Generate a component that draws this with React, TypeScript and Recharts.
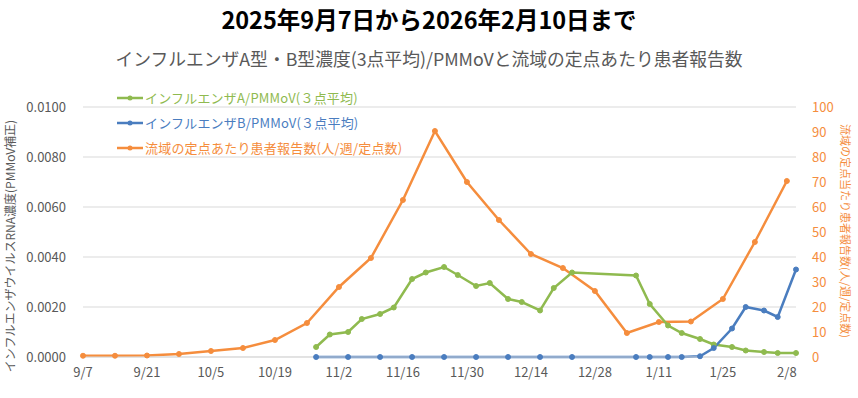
import React from 'react';
import {
  ComposedChart,
  Line,
  XAxis,
  YAxis,
  CartesianGrid,
} from 'recharts';

const FONT = '"Noto Sans CJK JP", "Noto Sans", sans-serif';
const GREEN = '#8fba4f';
const BLUE = '#4a7dbf';
const ORANGE = '#f58d3d';
const GRAY = '#595959';

const START = '2025-09-07';
const END = '2026-02-10';

// weekly sentinel reports (Sundays)
const reportDates = [
  '2025-09-07', '2025-09-14', '2025-09-21', '2025-09-28', '2025-10-05', '2025-10-12',
  '2025-10-19', '2025-10-26', '2025-11-02', '2025-11-09', '2025-11-16', '2025-11-23',
  '2025-11-30', '2025-12-07', '2025-12-14', '2025-12-21', '2025-12-28', '2026-01-04',
  '2026-01-11', '2026-01-18', '2026-01-25', '2026-02-01', '2026-02-08',
];
const reportValues = [
  0.5, 0.5, 0.6, 1.2, 2.4, 3.6, 6.8, 13.6, 28, 39.6, 62.8, 90.4,
  70, 54.8, 41.2, 35.6, 26.4, 9.6, 14, 14.2, 23.2, 46, 70.4,
];

// wastewater sampling days
const sampleDates = [
  '2025-10-28', '2025-10-31', '2025-11-04', '2025-11-07', '2025-11-11', '2025-11-14',
  '2025-11-18', '2025-11-21', '2025-11-25', '2025-11-28', '2025-12-02', '2025-12-05',
  '2025-12-09', '2025-12-12', '2025-12-16', '2025-12-19', '2025-12-23', '2026-01-06',
  '2026-01-09', '2026-01-13', '2026-01-16', '2026-01-20', '2026-01-23', '2026-01-27',
  '2026-01-30', '2026-02-03', '2026-02-06', '2026-02-10',
];
const fluA = [
  0.0004, 0.0009, 0.001, 0.00152, 0.00172, 0.00198, 0.00312, 0.00338, 0.0036, 0.00328,
  0.00284, 0.00296, 0.00232, 0.0022, 0.00186, 0.00276, 0.00338, 0.00326, 0.00212, 0.00126,
  0.00096, 0.00072, 0.0005, 0.0004, 0.00026, 0.0002, 0.00016, 0.00016,
];
const fluB: (number | null)[] = [
  0, null, 0, null, 0, null, 0, null, 0, null, 0, null, 0, null, 0, null, 0, 0, 0, 0,
  0, 0.00003, 0.00036, 0.00114, 0.002, 0.00186, 0.0016, 0.0035,
];

const xTickDates = [
  '2025-09-07', '2025-09-21', '2025-10-05', '2025-10-19', '2025-11-02', '2025-11-16',
  '2025-11-30', '2025-12-14', '2025-12-28', '2026-01-11', '2026-01-25', '2026-02-08',
];
const leftTicks = [0, 0.002, 0.004, 0.006, 0.008, 0.01];
const rightTicks = [0, 10, 20, 30, 40, 50, 60, 70, 80, 90, 100];

const seriesNames = {
  a: 'インフルエンザA/PMMoV(３点平均)',
  b: 'インフルエンザB/PMMoV(３点平均)',
  c: '流域の定点あたり患者報告数(人/週/定点数)',
};

const dayOf = (s: string) =>
  Math.round((Date.parse(s + 'T00:00:00Z') - Date.parse(START + 'T00:00:00Z')) / 86400000);

const mdLabel = (t: number) => {
  const d = new Date(Date.parse(START + 'T00:00:00Z') + t * 86400000);
  return `${d.getUTCMonth() + 1}/${d.getUTCDate()}`;
};

function buildRows() {
  const rows: Record<number, any> = {};
  const get = (t: number) => (rows[t] = rows[t] || { t });
  reportDates.forEach((d, i) => (get(dayOf(d)).c = reportValues[i]));
  sampleDates.forEach((d, i) => {
    const r = get(dayOf(d));
    r.a = fluA[i];
    r.b = fluB[i];
  });
  return Object.values(rows).sort((p: any, q: any) => p.t - q.t);
}

const data = buildRows();

const legendItems = [
  { key: 'a', color: GREEN },
  { key: 'b', color: BLUE },
  { key: 'c', color: ORANGE },
];

function LegendBox() {
  return (
    <div style={{ position: 'absolute', left: 117, top: 85, fontFamily: FONT, fontSize: 13, zIndex: 2 }}>
      {legendItems.map((it) => (
        <div key={it.key} style={{ display: 'flex', alignItems: 'center', height: 25 }}>
          <svg width={27} height={10} style={{ marginRight: 1 }}>
            <line x1={0} y1={5} x2={26} y2={5} stroke={it.color} strokeWidth={2.5} />
            <circle cx={13} cy={5} r={2.5} fill={it.color} />
          </svg>
          <span style={{ color: it.color, letterSpacing: 0.2 }}>
            {seriesNames[it.key as 'a' | 'b' | 'c']}
          </span>
        </div>
      ))}
    </div>
  );
}

const tickStyle = { fontFamily: FONT, fontSize: 13, fill: GRAY };

const axisTitle = (text: string, cx: number, cy: number, angle: number, size: number, color: string) => () => (
  <text
    x={cx}
    y={cy}
    transform={`rotate(${angle} ${cx} ${cy})`}
    textAnchor="middle"
    dominantBaseline="central"
    fontFamily={FONT}
    fontSize={size}
    fill={color}
  >
    {text}
  </text>
);

export default function App() {
  return (
    <div style={{ position: 'absolute', left: 0, top: 0, width: 858, height: 398, background: '#fff' }}>
      <div
        style={{
          position: 'absolute', left: 0, top: 2, width: 858, textAlign: 'center',
          fontFamily: FONT, fontWeight: 700, fontSize: 23.5, lineHeight: '34px', color: '#000',
        }}
      >
        2025年9月7日から2026年2月10日まで
      </div>
      <div
        style={{
          position: 'absolute', left: 0, top: 45, width: 858, textAlign: 'center',
          fontFamily: FONT, fontSize: 17.8, lineHeight: '26px', color: GRAY,
        }}
      >
        インフルエンザA型・B型濃度(3点平均)/PMMoVと流域の定点あたり患者報告数
      </div>
      <LegendBox />
      <ComposedChart
        width={858}
        height={398}
        data={data}
        margin={{ top: 107, right: 0, bottom: 11, left: 0 }}
      >
        <CartesianGrid yAxisId="left" vertical={false} stroke="#d9d9d9" />
        <XAxis
          dataKey="t"
          type="number"
          domain={[0, dayOf(END)]}
          ticks={xTickDates.map(dayOf)}
          tickFormatter={mdLabel}
          interval={0}
          height={30}
          tickLine={false}
          axisLine={{ stroke: '#d9d9d9' }}
          tickMargin={5}
          tick={tickStyle}
        />
        <YAxis
          yAxisId="left"
          width={83}
          domain={[0, 0.01]}
          ticks={leftTicks}
          interval={0}
          tickFormatter={(v: number) => v.toFixed(4)}
          axisLine={false}
          tickLine={false}
          tickMargin={11}
          tick={tickStyle}
          label={{
            content: axisTitle('インフルエンザウイルスRNA濃度(PMMoV補正)', 9, 246, -90, 12, GRAY),
          }}
        />
        <YAxis
          yAxisId="right"
          orientation="right"
          width={62}
          domain={[0, 100]}
          ticks={rightTicks}
          interval={0}
          axisLine={false}
          tickLine={false}
          tickMargin={10}
          tick={{ ...tickStyle, fill: ORANGE }}
          label={{
            content: axisTitle('流域の定点当たり患者報告数(人/週/定点数)', 846, 231, 90, 11, ORANGE),
          }}
        />
        <Line
          yAxisId="right"
          dataKey="c"
          name={seriesNames.c}
          stroke={ORANGE}
          strokeWidth={2.5}
          dot={{ r: 2.5, fill: ORANGE, stroke: ORANGE, strokeWidth: 1 }}
          connectNulls
          isAnimationActive={false}
        />
        <Line
          yAxisId="left"
          dataKey="a"
          name={seriesNames.a}
          stroke={GREEN}
          strokeWidth={2.5}
          dot={{ r: 2.5, fill: GREEN, stroke: GREEN, strokeWidth: 1 }}
          connectNulls
          isAnimationActive={false}
        />
        <Line
          yAxisId="left"
          dataKey="b"
          name={seriesNames.b}
          stroke={BLUE}
          strokeWidth={2.5}
          dot={{ r: 2.5, fill: BLUE, stroke: BLUE, strokeWidth: 1 }}
          connectNulls
          isAnimationActive={false}
        />
      </ComposedChart>
    </div>
  );
}
